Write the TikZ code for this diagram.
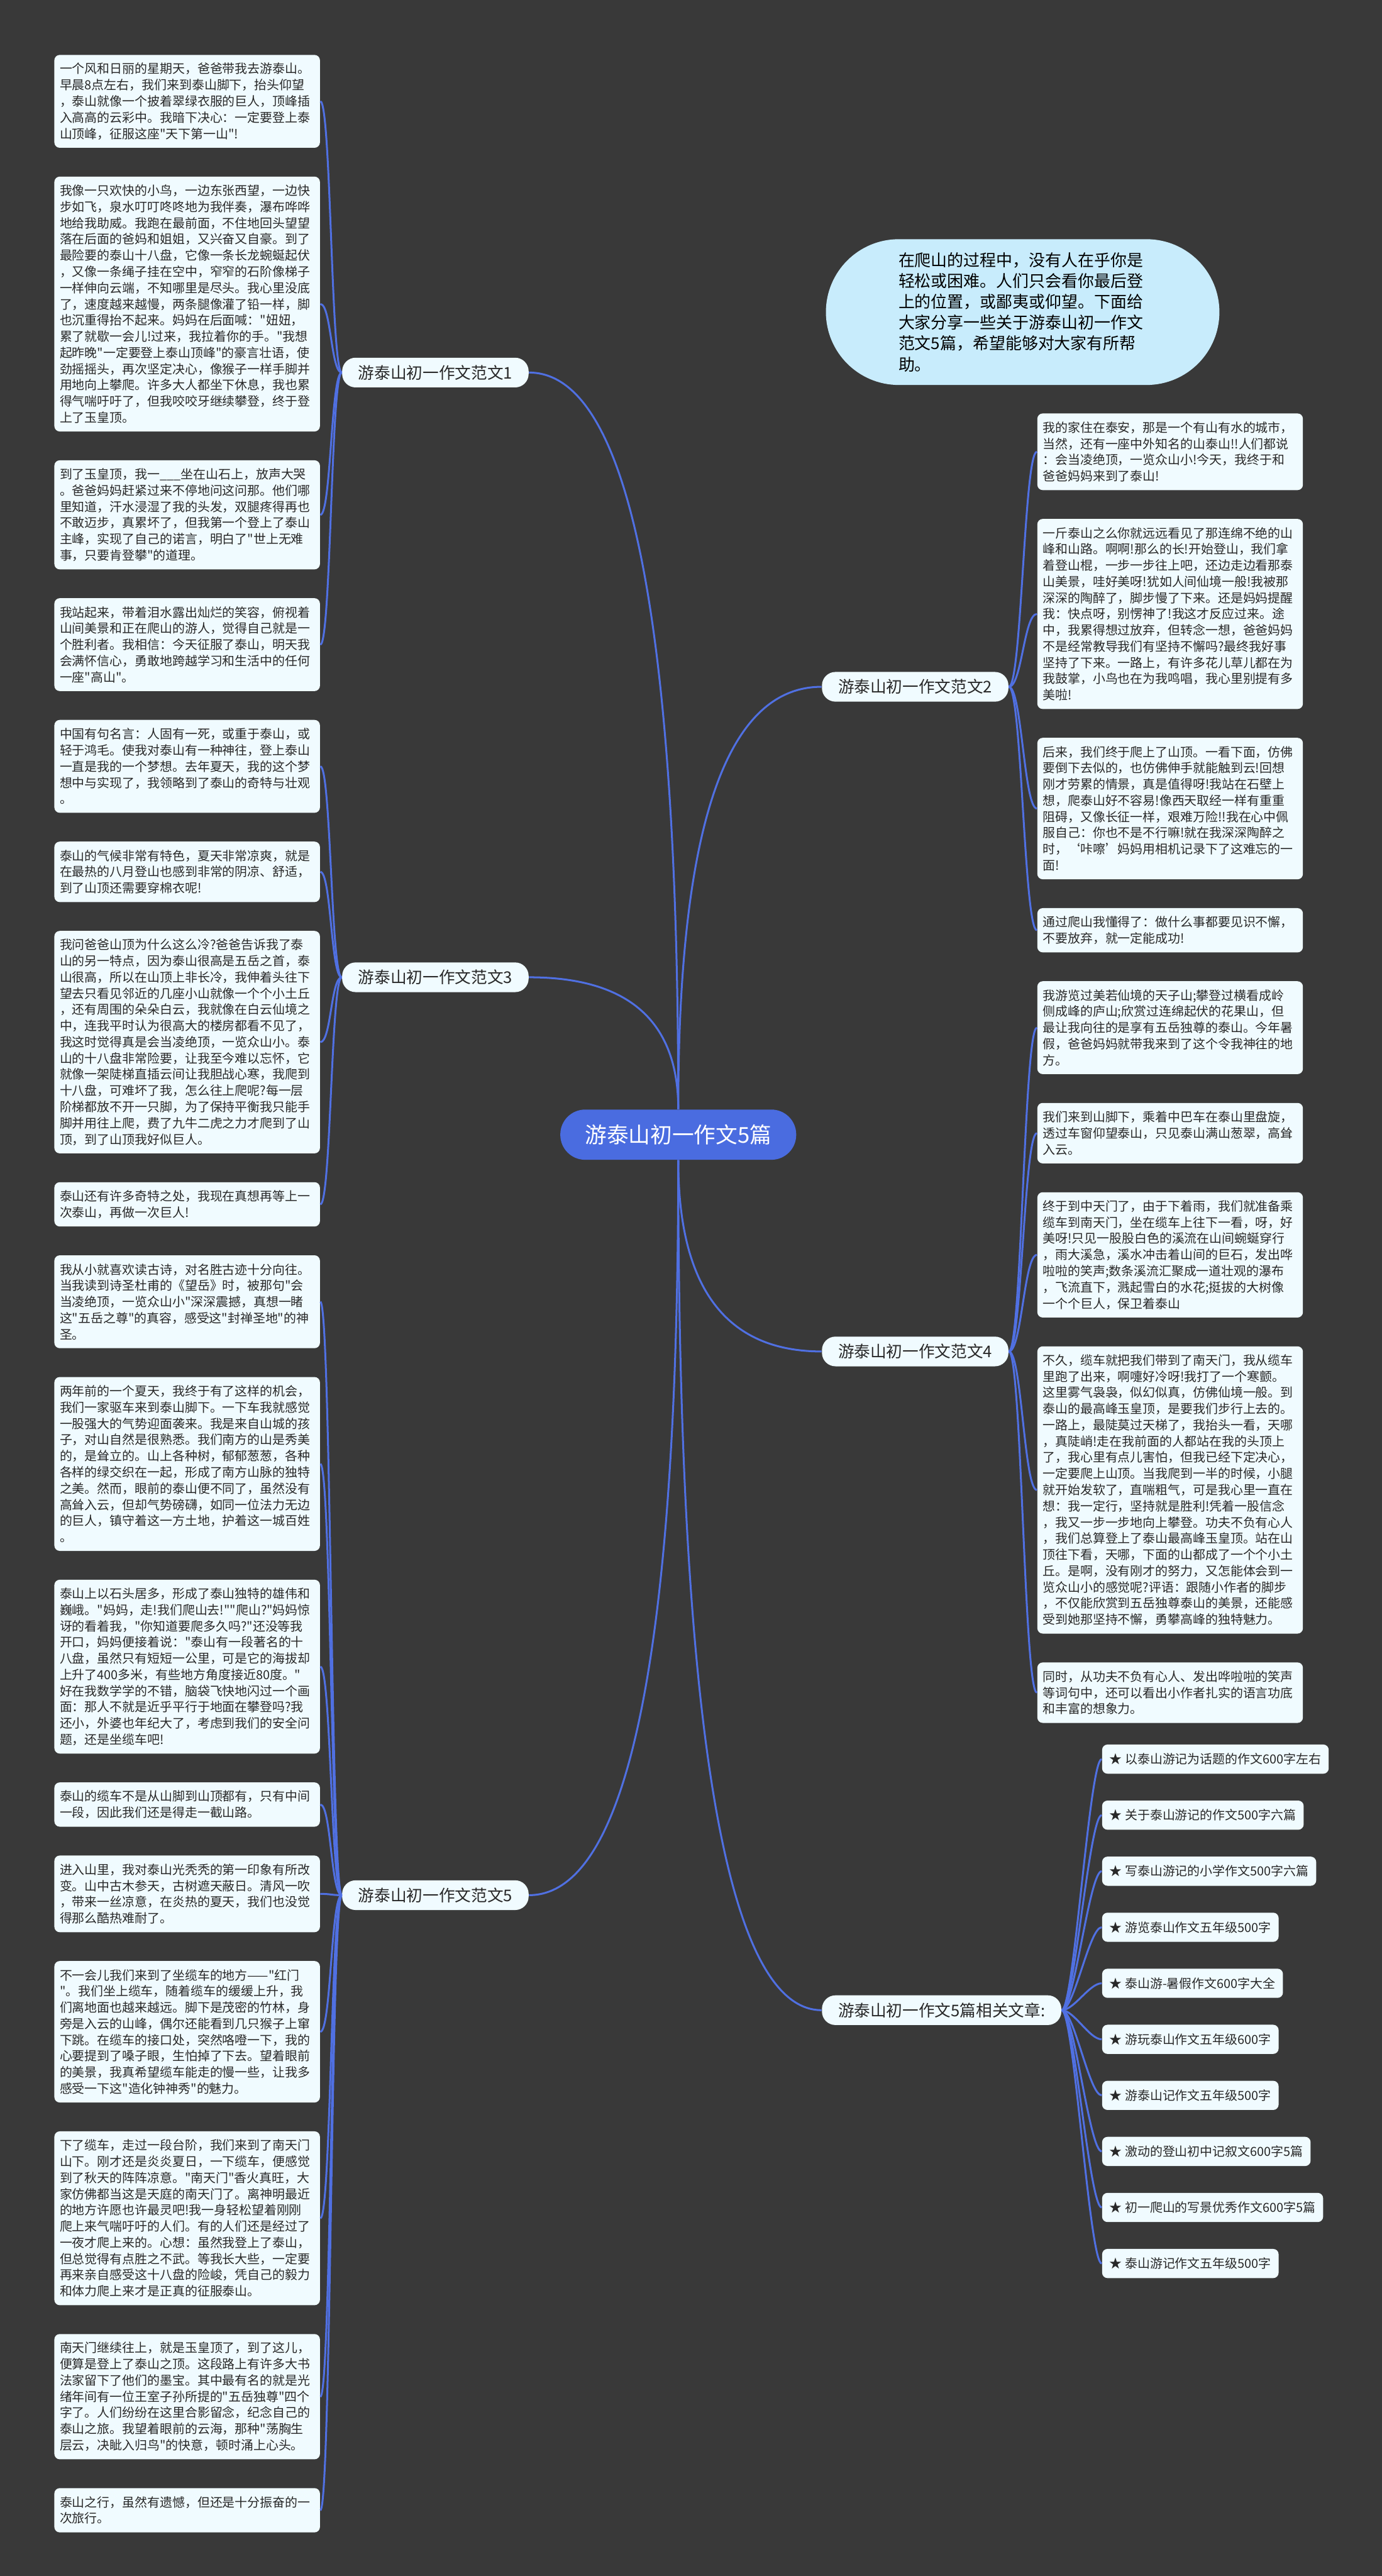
\documentclass[tikz,border=0pt]{standalone}
\usepackage{fontspec}
\setmainfont{Noto Sans CJK SC}[Ligatures=TeXOff]
\usetikzlibrary{positioning,calc}
\setlength{\parindent}{0pt}

\definecolor{bgcol}{RGB}{57,57,57}
\definecolor{boxcol}{RGB}{240,251,255}
\definecolor{linkcol}{RGB}{80,112,226}
\definecolor{hubcol}{RGB}{74,108,224}
\definecolor{bubcol}{RGB}{200,236,252}
\definecolor{txtcol}{RGB}{40,40,40}

\tikzset{
  link/.style={draw=linkcol,line width=1pt},
  tbox/.style={fill=boxcol,rounded corners=1mm,text=txtcol,text width=4.72cm,align=left,
    inner xsep=0.10cm,inner ysep=0pt,minimum height=#1,font=\fontsize{6.6}{8.54}\selectfont},
  item/.style={fill=boxcol,rounded corners=1mm,text=txtcol,inner xsep=0.14cm,inner ysep=0pt,
    minimum height=0.54cm,font=\fontsize{6.6}{8.54}\selectfont},
  branch/.style={fill=boxcol,rounded corners=2.5mm,text=txtcol,inner xsep=0.3cm,inner ysep=0pt,
    minimum height=0.55cm,font=\fontsize{8.5}{10}\selectfont},
  hub/.style={fill=hubcol,rounded corners=4.6mm,text=white,minimum width=4.37cm,minimum height=0.93cm,
    font=\fontsize{11.5}{13}\selectfont},
  bubble/.style={fill=bubcol,rounded corners=13.5mm,text=black,minimum width=7.29cm,minimum height=2.70cm,
    text width=4.6cm,align=left,font=\fontsize{8.6}{11}\selectfont}
}

\begin{document}
\begin{tikzpicture}
\fill[bgcol] (0,0) rectangle (25.6,-47.71);

% centre and summary
\node[hub] (hub) at (12.565,-21.015) {游泰山初一作文5篇};
\node[bubble] (intro) at (18.945,-5.78) {在爬山的过程中，没有人在乎你是\\轻松或困难。人们只会看你最后登\\上的位置，或鄙夷或仰望。下面给\\大家分享一些关于游泰山初一作文\\范文5篇，希望能够对大家有所帮\\助。};

% branches
\node[branch,anchor=east] (b1) at (9.80,-6.90) {游泰山初一作文范文1};
\node[branch,anchor=east] (b3) at (9.80,-18.10) {游泰山初一作文范文3};
\node[branch,anchor=east] (b5) at (9.80,-35.10) {游泰山初一作文范文5};
\node[branch,anchor=west] (b2) at (15.22,-12.72) {游泰山初一作文范文2};
\node[branch,anchor=west] (b4) at (15.22,-25.03) {游泰山初一作文范文4};
\node[branch,anchor=west] (rel) at (15.22,-37.23) {游泰山初一作文5篇相关文章:};

% left column
\node[tbox=1.72cm,anchor=north west] (l1a) at (1.00,-1.01) {一个风和日丽的星期天，爸爸带我去游泰山。\\早晨8点左右，我们来到泰山脚下，抬头仰望\\，泰山就像一个披着翠绿衣服的巨人，顶峰插\\入高高的云彩中。我暗下决心：一定要登上泰\\山顶峰，征服这座"天下第一山"!};
\node[tbox=4.72cm,below=0.52cm of l1a] (l1b) {我像一只欢快的小鸟，一边东张西望，一边快\\步如飞，泉水叮叮咚咚地为我伴奏，瀑布哗哗\\地给我助威。我跑在最前面，不住地回头望望\\落在后面的爸妈和姐姐，又兴奋又自豪。到了\\最险要的泰山十八盘，它像一条长龙蜿蜒起伏\\，又像一条绳子挂在空中，窄窄的石阶像梯子\\一样伸向云端，不知哪里是尽头。我心里没底\\了，速度越来越慢，两条腿像灌了铅一样，脚\\也沉重得抬不起来。妈妈在后面喊："妞妞，\\累了就歇一会儿!过来，我拉着你的手。"我想\\起昨晚"一定要登上泰山顶峰"的豪言壮语，使\\劲摇摇头，再次坚定决心，像猴子一样手脚并\\用地向上攀爬。许多大人都坐下休息，我也累\\得气喘吁吁了，但我咬咬牙继续攀登，终于登\\上了玉皇顶。};
\node[tbox=2.02cm,below=0.52cm of l1b] (l1c) {到了玉皇顶，我一\_\_\_坐在山石上，放声大哭\\。爸爸妈妈赶紧过来不停地问这问那。他们哪\\里知道，汗水浸湿了我的头发，双腿疼得再也\\不敢迈步，真累坏了，但我第一个登上了泰山\\主峰，实现了自己的诺言，明白了"世上无难\\事，只要肯登攀"的道理。};
\node[tbox=1.72cm,below=0.52cm of l1c] (l1d) {我站起来，带着泪水露出灿烂的笑容，俯视着\\山间美景和正在爬山的游人，觉得自己就是一\\个胜利者。我相信：今天征服了泰山，明天我\\会满怀信心，勇敢地跨越学习和生活中的任何\\一座"高山"。};
\node[tbox=1.72cm,below=0.52cm of l1d] (l3a) {中国有句名言：人固有一死，或重于泰山，或\\轻于鸿毛。使我对泰山有一种神往，登上泰山\\一直是我的一个梦想。去年夏天，我的这个梦\\想中与实现了，我领略到了泰山的奇特与壮观\\。};
\node[tbox=1.12cm,below=0.52cm of l3a] (l3b) {泰山的气候非常有特色，夏天非常凉爽，就是\\在最热的八月登山也感到非常的阴凉、舒适，\\到了山顶还需要穿棉衣呢!};
\node[tbox=4.12cm,below=0.52cm of l3b] (l3c) {我问爸爸山顶为什么这么冷?爸爸告诉我了泰\\山的另一特点，因为泰山很高是五岳之首，泰\\山很高，所以在山顶上非长冷，我伸着头往下\\望去只看见邻近的几座小山就像一个个小土丘\\，还有周围的朵朵白云，我就像在白云仙境之\\中，连我平时认为很高大的楼房都看不见了，\\我这时觉得真是会当凌绝顶，一览众山小。泰\\山的十八盘非常险要，让我至今难以忘怀，它\\就像一架陡梯直插云间让我胆战心寒，我爬到\\十八盘，可难坏了我，怎么往上爬呢?每一层\\阶梯都放不开一只脚，为了保持平衡我只能手\\脚并用往上爬，费了九牛二虎之力才爬到了山\\顶，到了山顶我好似巨人。};
\node[tbox=0.82cm,below=0.52cm of l3c] (l3d) {泰山还有许多奇特之处，我现在真想再等上一\\次泰山，再做一次巨人!};
\node[tbox=1.72cm,below=0.52cm of l3d] (l5a) {我从小就喜欢读古诗，对名胜古迹十分向往。\\当我读到诗圣杜甫的《望岳》时，被那句"会\\当凌绝顶，一览众山小"深深震撼，真想一睹\\这"五岳之尊"的真容，感受这"封禅圣地"的神\\圣。};
\node[tbox=3.22cm,below=0.52cm of l5a] (l5b) {两年前的一个夏天，我终于有了这样的机会，\\我们一家驱车来到泰山脚下。一下车我就感觉\\一股强大的气势迎面袭来。我是来自山城的孩\\子，对山自然是很熟悉。我们南方的山是秀美\\的，是耸立的。山上各种树，郁郁葱葱，各种\\各样的绿交织在一起，形成了南方山脉的独特\\之美。然而，眼前的泰山便不同了，虽然没有\\高耸入云，但却气势磅礴，如同一位法力无边\\的巨人，镇守着这一方土地，护着这一城百姓\\。};
\node[tbox=3.22cm,below=0.52cm of l5b] (l5c) {泰山上以石头居多，形成了泰山独特的雄伟和\\巍峨。"妈妈，走!我们爬山去!""爬山?"妈妈惊\\讶的看着我，"你知道要爬多久吗?"还没等我\\开口，妈妈便接着说："泰山有一段著名的十\\八盘，虽然只有短短一公里，可是它的海拔却\\上升了400多米，有些地方角度接近80度。"\\好在我数学学的不错，脑袋飞快地闪过一个画\\面：那人不就是近乎平行于地面在攀登吗?我\\还小，外婆也年纪大了，考虑到我们的安全问\\题，还是坐缆车吧!};
\node[tbox=0.82cm,below=0.52cm of l5c] (l5d) {泰山的缆车不是从山脚到山顶都有，只有中间\\一段，因此我们还是得走一截山路。};
\node[tbox=1.42cm,below=0.52cm of l5d] (l5e) {进入山里，我对泰山光秃秃的第一印象有所改\\变。山中古木参天，古树遮天蔽日。清风一吹\\，带来一丝凉意，在炎热的夏天，我们也没觉\\得那么酷热难耐了。};
\node[tbox=2.62cm,below=0.52cm of l5e] (l5f) {不一会儿我们来到了坐缆车的地方——"红门\\"。我们坐上缆车，随着缆车的缓缓上升，我\\们离地面也越来越远。脚下是茂密的竹林，身\\旁是入云的山峰，偶尔还能看到几只猴子上窜\\下跳。在缆车的接口处，突然咯噔一下，我的\\心要提到了嗓子眼，生怕掉了下去。望着眼前\\的美景，我真希望缆车能走的慢一些，让我多\\感受一下这"造化钟神秀"的魅力。};
\node[tbox=3.22cm,below=0.52cm of l5f] (l5g) {下了缆车，走过一段台阶，我们来到了南天门\\山下。刚才还是炎炎夏日，一下缆车，便感觉\\到了秋天的阵阵凉意。"南天门"香火真旺，大\\家仿佛都当这是天庭的南天门了。离神明最近\\的地方许愿也许最灵吧!我一身轻松望着刚刚\\爬上来气喘吁吁的人们。有的人们还是经过了\\一夜才爬上来的。心想：虽然我登上了泰山，\\但总觉得有点胜之不武。等我长大些，一定要\\再来亲自感受这十八盘的险峻，凭自己的毅力\\和体力爬上来才是正真的征服泰山。};
\node[tbox=2.32cm,below=0.52cm of l5g] (l5h) {南天门继续往上，就是玉皇顶了，到了这儿，\\便算是登上了泰山之顶。这段路上有许多大书\\法家留下了他们的墨宝。其中最有名的就是光\\绪年间有一位王室子孙所提的"五岳独尊"四个\\字了。人们纷纷在这里合影留念，纪念自己的\\泰山之旅。我望着眼前的云海，那种"荡胸生\\层云，决眦入归鸟"的快意，顿时涌上心头。};
\node[tbox=0.82cm,below=0.52cm of l5h] (l5i) {泰山之行，虽然有遗憾，但还是十分振奋的一\\次旅行。};

% right column
\node[tbox=1.42cm,anchor=north west] (r2a) at (19.21,-7.65) {我的家住在泰安，那是一个有山有水的城市，\\当然，还有一座中外知名的山泰山!!人们都说\\：会当凌绝顶，一览众山小!今天，我终于和\\爸爸妈妈来到了泰山!};
\node[tbox=3.52cm,below=0.52cm of r2a] (r2b) {一斤泰山之么你就远远看见了那连绵不绝的山\\峰和山路。啊啊!那么的长!开始登山，我们拿\\着登山棍，一步一步往上吧，还边走边看那泰\\山美景，哇好美呀!犹如人间仙境一般!我被那\\深深的陶醉了，脚步慢了下来。还是妈妈提醒\\我：快点呀，别愣神了!我这才反应过来。途\\中，我累得想过放弃，但转念一想，爸爸妈妈\\不是经常教导我们有坚持不懈吗?最终我好事\\坚持了下来。一路上，有许多花儿草儿都在为\\我鼓掌，小鸟也在为我鸣唱，我心里别提有多\\美啦!};
\node[tbox=2.62cm,below=0.52cm of r2b] (r2c) {后来，我们终于爬上了山顶。一看下面，仿佛\\要倒下去似的，也仿佛伸手就能触到云!回想\\刚才劳累的情景，真是值得呀!我站在石壁上\\想，爬泰山好不容易!像西天取经一样有重重\\阻碍，又像长征一样，艰难万险!!我在心中佩\\服自己：你也不是不行嘛!就在我深深陶醉之\\时，‘咔嚓’妈妈用相机记录下了这难忘的一\\面!};
\node[tbox=0.82cm,below=0.52cm of r2c] (r2d) {通过爬山我懂得了：做什么事都要见识不懈，\\不要放弃，就一定能成功!};
\node[tbox=1.72cm,below=0.52cm of r2d] (r4a) {我游览过美若仙境的天子山;攀登过横看成岭\\侧成峰的庐山;欣赏过连绵起伏的花果山，但\\最让我向往的是享有五岳独尊的泰山。今年暑\\假，爸爸妈妈就带我来到了这个令我神往的地\\方。};
\node[tbox=1.12cm,below=0.52cm of r4a] (r4b) {我们来到山脚下，乘着中巴车在泰山里盘旋，\\透过车窗仰望泰山，只见泰山满山葱翠，高耸\\入云。};
\node[tbox=2.32cm,below=0.52cm of r4b] (r4c) {终于到中天门了，由于下着雨，我们就准备乘\\缆车到南天门，坐在缆车上往下一看，呀，好\\美呀!只见一股股白色的溪流在山间蜿蜒穿行\\，雨大溪急，溪水冲击着山间的巨石，发出哗\\啦啦的笑声;数条溪流汇聚成一道壮观的瀑布\\，飞流直下，溅起雪白的水花;挺拔的大树像\\一个个巨人，保卫着泰山};
\node[tbox=5.32cm,below=0.52cm of r4c] (r4d) {不久，缆车就把我们带到了南天门，我从缆车\\里跑了出来，啊嚏好冷呀!我打了一个寒颤。\\这里雾气袅袅，似幻似真，仿佛仙境一般。到\\泰山的最高峰玉皇顶，是要我们步行上去的。\\一路上，最陡莫过天梯了，我抬头一看，天哪\\，真陡峭!走在我前面的人都站在我的头顶上\\了，我心里有点儿害怕，但我已经下定决心，\\一定要爬上山顶。当我爬到一半的时候，小腿\\就开始发软了，直喘粗气，可是我心里一直在\\想：我一定行，坚持就是胜利!凭着一股信念\\，我又一步一步地向上攀登。功夫不负有心人\\，我们总算登上了泰山最高峰玉皇顶。站在山\\顶往下看，天哪，下面的山都成了一个个小土\\丘。是啊，没有刚才的努力，又怎能体会到一\\览众山小的感觉呢?评语：跟随小作者的脚步\\，不仅能欣赏到五岳独尊泰山的美景，还能感\\受到她那坚持不懈，勇攀高峰的独特魅力。};
\node[tbox=1.12cm,below=0.52cm of r4d] (r4e) {同时，从功夫不负有心人、发出哗啦啦的笑声\\等词句中，还可以看出小作者扎实的语言功底\\和丰富的想象力。};

% related articles
\foreach \t [count=\i] in {以泰山游记为话题的作文600字左右,关于泰山游记的作文500字六篇,写泰山游记的小学作文500字六篇,游览泰山作文五年级500字,泰山游-暑假作文600字大全,游玩泰山作文五年级600字,游泰山记作文五年级500字,激动的登山初中记叙文600字5篇,初一爬山的写景优秀作文600字5篇,泰山游记作文五年级500字}
  \node[item,anchor=west] (i\i) at (20.41,{-32.58-1.038*(\i-1)}) {★ \t};

% connectors
\foreach \brn/\hsa/\bsa in {b1/north/east,b3/north/east,b2/north/west,b5/south/east,b4/south/west,rel/south/west}
  \draw[link] (hub.\hsa) .. controls ($(hub.\hsa)!0.667!(hub.\hsa |- \brn.\bsa)$) and ($(\brn.\bsa)!0.667!(hub.\hsa |- \brn.\bsa)$) .. (\brn.\bsa);
\foreach \t in {l1a,l1b,l1c,l1d}
  \draw[link] (b1.west) .. controls +(-0.2,0) and +(0.2,0) .. (\t.east);
\foreach \t in {l3a,l3b,l3c,l3d}
  \draw[link] (b3.west) .. controls +(-0.2,0) and +(0.2,0) .. (\t.east);
\foreach \t in {l5a,l5b,l5c,l5d,l5e,l5f,l5g,l5h,l5i}
  \draw[link] (b5.west) .. controls +(-0.2,0) and +(0.2,0) .. (\t.east);
\foreach \t in {r2a,r2b,r2c,r2d}
  \draw[link] (b2.east) .. controls +(0.24,0) and +(-0.24,0) .. (\t.west);
\foreach \t in {r4a,r4b,r4c,r4d,r4e}
  \draw[link] (b4.east) .. controls +(0.24,0) and +(-0.24,0) .. (\t.west);
\foreach \i in {1,...,10}
  \draw[link] (rel.east) .. controls +(0.23,0) and +(-0.23,0) .. (i\i.west);
\end{tikzpicture}
\end{document}
